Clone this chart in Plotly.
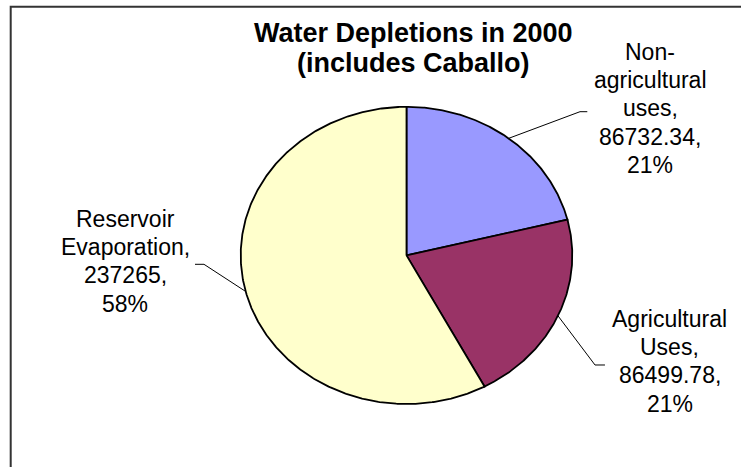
import numpy as np
import plotly.graph_objects as go

# ---- data ----
categories = ["Non-<br>agricultural<br>uses", "Agricultural<br>Uses", "Reservoir<br>Evaporation"]
values = [86732.34, 86499.78, 237265]
colors = ["#9999FF", "#993366", "#FFFFCC"]

title_lines = ["Water Depletions in 2000", "(includes Caballo)"]

# ---- layout constants ----
W, H = 741, 467
CX, CY = 406.5, 255.4          # pie centre in pixels
RX, RY = 165.8, 148.6          # pie radii in pixels (slightly oval)

LABEL_SIZE, LABEL_PITCH = 23, 28.4
TITLE_SIZE = 27

# label block centres (pixels) and leader-line elbows (pie units)
label_pos = [(650, 108.5), (669.5, 361.2), (125, 261.2)]
elbows = [
    [(1.0465, 0.967), (1.0905, 0.967)],
    [(1.137, -0.7375), (1.197, -0.7375)],
    [(-1.2214, -0.0599), (-1.2756, -0.0599)],
]

total = sum(values)
fig = go.Figure()

# wedges: angles measured clockwise from 12 o'clock
start = 0.0
mids = []
for name, v, c in zip(categories, values, colors):
    span = v / total * 2 * np.pi
    th = np.linspace(start, start + span, max(int(span * 120), 8))
    xs = np.concatenate([[0], np.sin(th), [0]])
    ys = np.concatenate([[0], np.cos(th), [0]])
    fig.add_trace(go.Scatter(x=xs, y=ys, mode="lines", fill="toself",
                             fillcolor=c, line=dict(color="black", width=1.8),
                             hoverinfo="skip", showlegend=False))
    mids.append(start + span / 2)
    start += span

# leader lines from slice midpoints to labels
for m, el in zip(mids, elbows):
    xs = [np.sin(m)] + [p[0] for p in el]
    ys = [np.cos(m)] + [p[1] for p in el]
    fig.add_trace(go.Scatter(x=xs, y=ys, mode="lines",
                             line=dict(color="black", width=1),
                             hoverinfo="skip", showlegend=False))


def fmt(v):
    s = "%.2f" % v
    return s.rstrip("0").rstrip(".")


font = dict(family="Liberation Sans, Arial, sans-serif", color="black")
annotations = []
for name, v, (px, py) in zip(categories, values, label_pos):
    pct = round(v / total * 100)
    lines = f"{name},<br>{fmt(v)},<br>{pct}%".split("<br>")
    first = py - (len(lines) - 1) / 2 * LABEL_PITCH
    for i, ln in enumerate(lines):
        annotations.append(dict(text=ln, x=px / W, y=1 - (first + i * LABEL_PITCH) / H,
                                xref="paper", yref="paper", showarrow=False,
                                xanchor="center", yanchor="middle",
                                font=dict(size=LABEL_SIZE, **font)))

for line, py in zip(title_lines, [33.0, 63.0]):
    annotations.append(dict(text=f"<b>{line}</b>", x=413 / W, y=1 - py / H,
                            xref="paper", yref="paper", showarrow=False,
                            xanchor="center", yanchor="middle",
                            font=dict(size=TITLE_SIZE, **font)))

# axis ranges so that one pie unit = RX px horizontally, RY px vertically
xr = [-CX / RX, (W - CX) / RX]
yr = [-(H - CY) / RY, CY / RY]

fig.update_layout(
    width=W, height=H, autosize=False,
    margin=dict(l=0, r=0, t=0, b=0),
    paper_bgcolor="white", plot_bgcolor="white",
    xaxis=dict(range=xr, visible=False, fixedrange=True),
    yaxis=dict(range=yr, visible=False, fixedrange=True),
    annotations=annotations,
    shapes=[dict(type="rect", xref="paper", yref="paper",
                 x0=10.7 / W, x1=1.05, y0=-0.05, y1=1 - 6.7 / H,
                 line=dict(color="#333333", width=2), layer="above")],
)

fig.write_html("out.html")
